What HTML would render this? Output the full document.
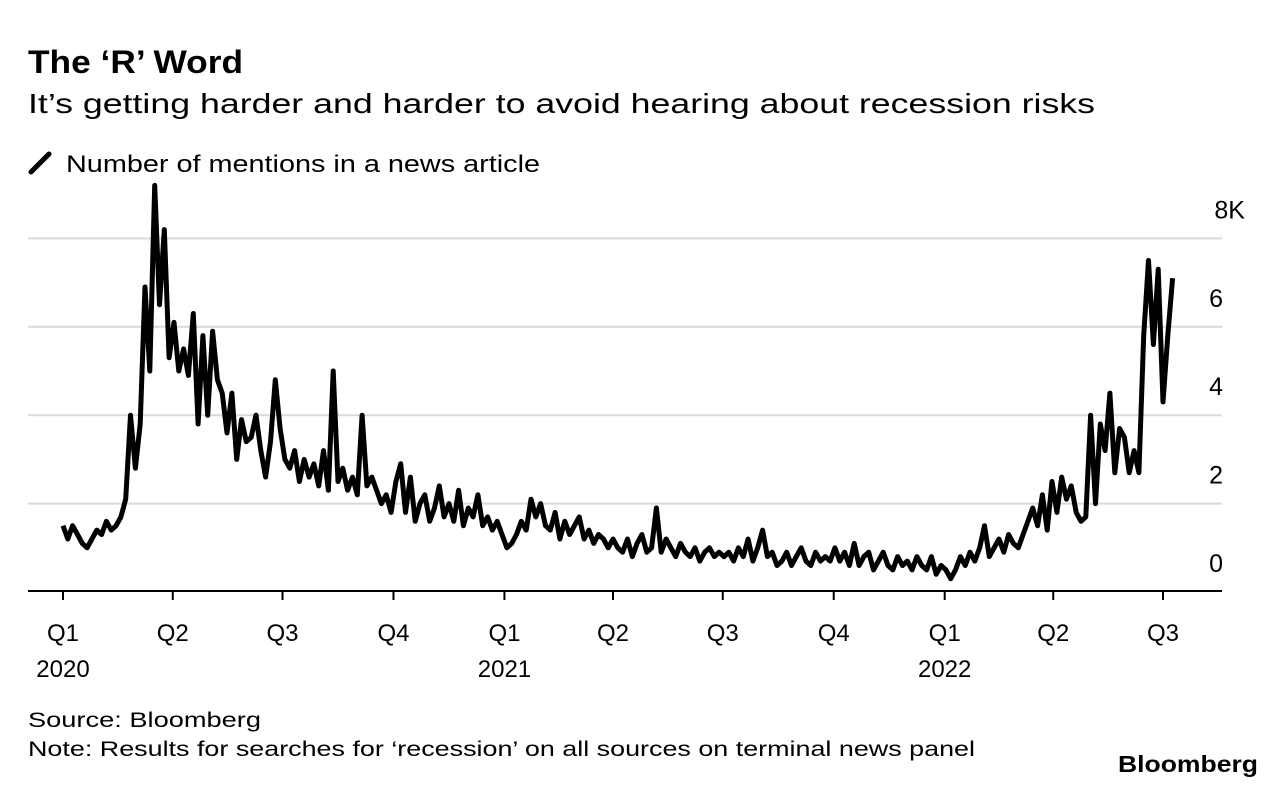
<!DOCTYPE html>
<html><head><meta charset="utf-8"><style>
html,body{margin:0;padding:0;background:#fff;}
svg{display:block;font-family:"Liberation Sans",Arial,sans-serif;}
</style></head><body>
<svg id="chart" width="1286" height="788" viewBox="0 0 1286 788">
<text x="28" y="73" font-size="32" font-weight="bold" textLength="215" lengthAdjust="spacingAndGlyphs">The ‘R’ Word</text>
<text x="28" y="113" font-size="28" textLength="1067" lengthAdjust="spacingAndGlyphs">It’s getting harder and harder to avoid hearing about recession risks</text>
<line x1="31" y1="172" x2="49" y2="154" stroke="#000" stroke-width="5" stroke-linecap="round"/>
<text x="66" y="172" font-size="24" textLength="474" lengthAdjust="spacingAndGlyphs">Number of mentions in a news article</text>
<g id="grid"></g>
<g id="yticks"></g>
<g id="xticks"></g>
<path id="line" fill="none" stroke="#000" stroke-width="5" stroke-linejoin="round"/>
<text x="28" y="727" font-size="21" textLength="233" lengthAdjust="spacingAndGlyphs">Source: Bloomberg</text>
<text x="28" y="756" font-size="21" textLength="947" lengthAdjust="spacingAndGlyphs">Note: Results for searches for ‘recession’ on all sources on terminal news panel</text>
<text x="1258" y="772" font-size="23" font-weight="bold" text-anchor="end" textLength="140" lengthAdjust="spacingAndGlyphs">Bloomberg</text>
</svg>
<script>
const yTicks = [0, 2, 4, 6, 8];
const yTickLabels = ["0", "2", "4", "6", "8K"];
const quarterLabels = ["Q1","Q2","Q3","Q4","Q1","Q2","Q3","Q4","Q1","Q2","Q3"];
const yearLabels = ["2020","","","","2021","","","","2022","",""];
const quarterDays = [0,91,182,274,366,456,547,639,731,821,912];
const stepDays = 4;
const values = [
1.5,1.2,1.5,1.3,1.1,1.0,1.2,1.4,1.3,1.6,1.4,1.5,1.7,2.1,4.0,2.8,3.8,6.9,5.0,9.2,6.5,8.2,5.3,6.1,5.0,
5.5,4.9,6.3,3.8,5.8,4.0,5.9,4.8,4.5,3.6,4.5,3.0,3.9,3.4,3.5,4.0,3.2,2.6,3.4,4.8,3.7,3.0,
2.8,3.2,2.5,3.0,2.6,2.9,2.4,3.2,2.3,5.0,2.5,2.8,2.3,2.6,2.2,4.0,2.4,2.6,2.3,2.0,2.2,1.8,2.5,
2.9,1.8,2.6,1.6,2.0,2.2,1.6,1.9,2.4,1.7,2.0,1.6,2.3,1.5,1.9,1.7,2.2,1.5,1.7,1.4,1.6,1.3,1.0,
1.1,1.3,1.6,1.4,2.1,1.7,2.0,1.5,1.4,1.8,1.2,1.6,1.3,1.5,1.7,1.2,1.4,1.1,1.3,1.2,1.0,1.2,
1.0,0.9,1.2,0.8,1.1,1.3,0.9,1.0,1.9,0.9,1.2,1.0,0.8,1.1,0.9,0.8,1.0,0.7,0.9,1.0,0.8,0.9,0.8,
0.9,0.7,1.0,0.8,1.2,0.7,1.0,1.4,0.8,0.9,0.6,0.7,0.9,0.6,0.8,1.0,0.7,0.6,0.9,0.7,0.8,0.7,1.0,
0.7,0.9,0.6,1.1,0.6,0.8,0.9,0.5,0.7,0.9,0.6,0.5,0.8,0.6,0.7,0.5,0.8,0.6,0.5,0.8,0.4,0.6,0.5,
0.3,0.5,0.8,0.6,0.9,0.7,1.0,1.5,0.8,1.0,1.2,0.9,1.3,1.1,1.0,1.3,1.6,1.9,1.5,2.2,1.4,2.5,
1.8,2.6,2.1,2.4,1.8,1.6,1.7,4.0,2.0,3.8,3.2,4.5,2.7,3.7,3.5,2.7,3.2,2.7,5.8,7.5,5.6,
7.3,4.3,5.8,7.1
];
const NS = "http://www.w3.org/2000/svg";
const xScale = d => 63 + d * (1163 - 63) / 912;
const yScale = v => 592 - v * 44.2;
const grid = document.getElementById('grid');
const yt = document.getElementById('yticks');
yTicks.forEach((t, i) => {
  if (t > 0) {
    const l = document.createElementNS(NS, 'line');
    
    
    l.setAttribute('x1', 28); l.setAttribute('x2', 1222);
    l.setAttribute('y1', yScale(t)); l.setAttribute('y2', yScale(t));
    l.setAttribute('stroke', '#d9d9d9'); l.setAttribute('stroke-width', '2');
    grid.appendChild(l);
  }
  const tx = document.createElementNS(NS, 'text');
  
  
  tx.setAttribute('x', i === yTicks.length - 1 ? 1245 : 1223);
  tx.setAttribute('y', yScale(t) - 20);
  tx.setAttribute('font-size', '25');
  tx.setAttribute('text-anchor', 'end');
  tx.textContent = yTickLabels[i];
  yt.appendChild(tx);
});
const xt = document.getElementById('xticks');
const axis = document.createElementNS(NS, 'line');


axis.setAttribute('x1', 28); axis.setAttribute('x2', 1222);
axis.setAttribute('y1', 591); axis.setAttribute('y2', 591);
axis.setAttribute('stroke', '#000'); axis.setAttribute('stroke-width', '2');
xt.appendChild(axis);
quarterDays.forEach((d, i) => {
  const x = xScale(d);
  const tk = document.createElementNS(NS, 'line');
  
  
  tk.setAttribute('x1', x); tk.setAttribute('x2', x);
  tk.setAttribute('y1', 591); tk.setAttribute('y2', 600);
  tk.setAttribute('stroke', '#000'); tk.setAttribute('stroke-width', '2');
  xt.appendChild(tk);
  const q = document.createElementNS(NS, 'text');
  
  
  q.setAttribute('x', x); q.setAttribute('y', 641);
  q.setAttribute('font-size', '24'); q.setAttribute('text-anchor', 'middle');
  q.textContent = quarterLabels[i];
  xt.appendChild(q);
  if (yearLabels[i]) {
    const y = document.createElementNS(NS, 'text');
    
    
    y.setAttribute('x', x); y.setAttribute('y', 677);
    y.setAttribute('font-size', '24'); y.setAttribute('text-anchor', 'middle');
    y.textContent = yearLabels[i];
    xt.appendChild(y);
  }
});
let dStr = '';
values.forEach((v, i) => {
  dStr += (i ? 'L' : 'M') + xScale(i * stepDays).toFixed(1) + ',' + yScale(v).toFixed(1);
});
document.getElementById('line').setAttribute('d', dStr);
</script>
</body></html>
